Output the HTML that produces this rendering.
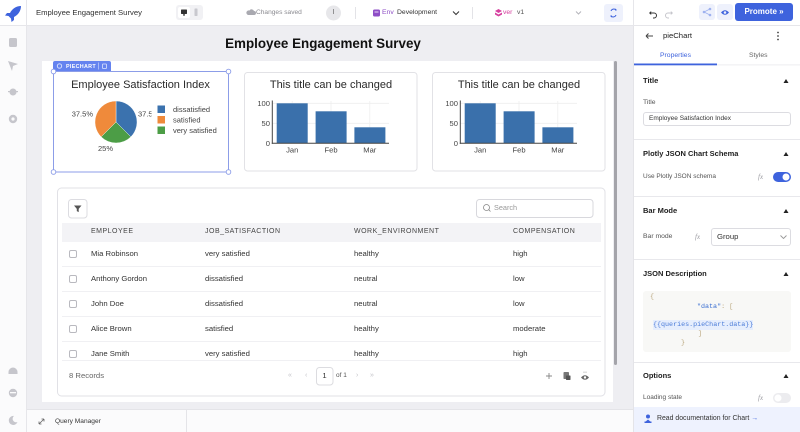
<!DOCTYPE html>
<html><head><meta charset="utf-8"><style>
*{box-sizing:border-box;margin:0;padding:0}
html,body{width:800px;height:432px;overflow:hidden}
body{position:relative;background:#eeeef2;font-family:"Liberation Sans",sans-serif;color:#222}
.a{position:absolute}
.t{position:absolute;white-space:nowrap;line-height:10px}
.row{font-size:7.7px;color:#333}
.hd{font-size:7px;letter-spacing:0.5px;color:#444}
.sec{font-size:7.5px;font-weight:bold;color:#1e1e1e}
.lbl{font-size:6.8px;color:#555}
.fx{font-family:"Liberation Serif",serif;font-style:italic;font-size:7px;color:#9a9aa0}
.cb{position:absolute;width:8px;height:8px;border:1px solid #b9b9bf;border-radius:2px;background:#fff}
.mono{font-family:"Liberation Mono",monospace;font-size:6.7px}
</style></head><body>

<!-- top bar -->
<div class="a" style="left:0;top:0;width:800px;height:26px;background:#fff;border-bottom:1px solid #e6e6ea"></div>
<!-- sidebar -->
<div class="a" style="left:0;top:26px;width:26px;height:406px;background:#fbfbfc"></div>
<div class="a" style="left:26px;top:0;width:1px;height:432px;background:#e6e6ea"></div>
<!-- canvas white page -->
<div class="a" style="left:42px;top:61px;width:571px;height:341px;background:#fff"></div>
<div class="a" style="left:614px;top:61px;width:3px;height:304px;background:#a4a4aa;border-radius:2px"></div>
<!-- query manager bar -->
<div class="a" style="left:27px;top:409px;width:606px;height:23px;background:#fbfbfc;border-top:1px solid #e4e4e8"></div>
<div class="a" style="left:186px;top:410px;width:1px;height:22px;background:#e4e4e8"></div>
<div class="t" style="left:55px;top:417px;font-size:6.6px;color:#333">Query Manager</div>
<!-- right panel -->
<div class="a" style="left:633px;top:0;width:1px;height:26px;background:#e6e6ea"></div>
<div class="a" style="left:633px;top:26px;width:167px;height:406px;background:#fff;border-left:1px solid #e4e4e8"></div>

<!-- main title -->
<div class="t" style="left:0;width:646px;text-align:center;top:37px;line-height:14px;font-size:13.4px;font-weight:bold;color:#111">Employee Engagement Survey</div>

<svg class="a" style="left:0;top:0" width="800" height="432" xmlns="http://www.w3.org/2000/svg" font-family="Liberation Sans, sans-serif">
  <!-- rocket logo -->
  <path d="M21,6 C16,6 12,9 10,13 L7,13 L5,15.5 L8.5,16 L11,18.5 L11.5,22 L14,20 L14,17 C18,15 21,11 21,6 Z" fill="#3e63dd"/>
  <!-- sidebar icons -->
  <g fill="#c6c6cc">
    <rect x="9" y="38" width="8" height="9" rx="1.5"/>
    <path d="M8,61 L18,64 L13,66 L12,71 Z"/>
    <circle cx="13" cy="92" r="3.5"/><rect x="8" y="91" width="10" height="1.2"/>
    <circle cx="13" cy="119" r="4.2"/>
    <path d="M8.5,372 A4.5,4.5 0 0 1 17.5,372 L17.5,374 L8.5,374 Z"/>
    <circle cx="13" cy="393" r="4.2"/>
    <path d="M14,416 A4.5,4.5 0 1 0 17.5,422 A3.5,3.5 0 0 1 14,416 Z"/>
  </g>
  <circle cx="13" cy="119" r="1.6" fill="#fbfbfc"/>
  <rect x="10" y="392" width="6" height="1.3" fill="#fbfbfc"/>

  <!-- top bar widgets -->
  <rect x="176" y="5" width="27" height="15" rx="3" fill="#f1f1f4"/>
  <rect x="178" y="7" width="12" height="11" rx="2" fill="#fff"/>
  <rect x="181" y="9.5" width="6" height="4.5" rx="0.6" fill="#333"/>
  <rect x="183.3" y="14" width="1.4" height="1.8" fill="#333"/>
  <rect x="194.5" y="8.5" width="3" height="7.5" rx="0.6" fill="#c8c8ce"/>
  <path d="M248,15 h6 a2,2 0 0 0 0,-4 a2.5,2.5 0 0 0 -4.5,-0.5 a2,2 0 0 0 -1.5,4.5 z" fill="#a9a9b0"/>
  <circle cx="333.5" cy="13" r="7.5" fill="#e7e7ea"/>
  <rect x="355" y="7" width="1" height="12" fill="#e3e3e7"/>
  <rect x="373" y="9.5" width="7" height="7" rx="1.5" fill="#8e4ec6"/>
  <rect x="374.5" y="11.5" width="4" height="1" fill="#e9d8f6"/>
  <polyline points="453,11.5 456,14.5 459,11.5" fill="none" stroke="#333" stroke-width="1"/>
  <rect x="472" y="7" width="1" height="12" fill="#e3e3e7"/>
  <path d="M495,11 L498.5,9 L502,11 L498.5,13 Z" fill="#d6409f"/>
  <path d="M495,12.5 L498.5,14.5 L502,12.5 L502,14.5 L498.5,16.5 L495,14.5 Z" fill="#d6409f"/>
  <polyline points="576,11.5 578.5,14 581,11.5" fill="none" stroke="#b5b5bb" stroke-width="1"/>
  <rect x="604" y="4" width="19" height="18" rx="3" fill="#eef1fc"/>
  <path d="M611,11 a3,3 0 0 1 5,-1 M616,15 a3,3 0 0 1 -5,1" fill="none" stroke="#3e63dd" stroke-width="1"/>
  <path d="M615.5,8.5 l1.5,1.8 l-2,0.3 z M611.5,17.5 l-1.5,-1.8 l2,-0.3 z" fill="#3e63dd"/>
  <path d="M650,13 h4 a2.5,2.5 0 0 1 0,5 h-1" fill="none" stroke="#333" stroke-width="1"/>
  <path d="M649,13 l2.2,-2 l0,4 z" fill="#333"/>
  <path d="M672,13 h-4 a2.5,2.5 0 0 0 0,5 h1" fill="none" stroke="#c6c6cc" stroke-width="1"/>
  <path d="M673,13 l-2.2,-2 l0,4 z" fill="#c6c6cc"/>
  <rect x="699" y="4" width="16" height="16" rx="3" fill="#eef1fc"/>
  <circle cx="704" cy="12" r="1.3" fill="#9fb2ef"/><circle cx="710" cy="9" r="1.3" fill="#9fb2ef"/><circle cx="710" cy="15" r="1.3" fill="#9fb2ef"/>
  <path d="M704,12 L710,9 M704,12 L710,15" stroke="#9fb2ef" stroke-width="0.8"/>
  <rect x="717" y="4" width="16" height="16" rx="3" fill="#eef1fc"/>
  <path d="M721,12.5 Q725,8 729,12.5 Q725,17 721,12.5 Z" fill="#3e63dd"/>
  <circle cx="725" cy="12.5" r="1.3" fill="#eef1fc"/>
  <rect x="735" y="3" width="58" height="18" rx="3" fill="#3e63dd"/>

  <!-- right panel icons -->
  <path d="M646,36 h7 M646,36 l2.5,-2.5 M646,36 l2.5,2.5" fill="none" stroke="#444" stroke-width="1"/>
  <circle cx="778" cy="32.5" r="0.9" fill="#444"/><circle cx="778" cy="36" r="0.9" fill="#444"/><circle cx="778" cy="39.5" r="0.9" fill="#444"/>
  <rect x="634" y="64.5" width="166" height="0.8" fill="#e8e8ec"/>
  <rect x="634" y="63.5" width="83" height="1.8" fill="#3e63dd"/>
  <g fill="#222">
    <polygon points="783.5,83 788.5,83 786,79"/>
    <polygon points="783.5,156 788.5,156 786,152"/>
    <polygon points="783.5,213 788.5,213 786,209"/>
    <polygon points="783.5,276 788.5,276 786,272"/>
    <polygon points="783.5,378 788.5,378 786,374"/>
  </g>
  <g fill="#e8e8ec">
    <rect x="634" y="139" width="166" height="1"/>
    <rect x="634" y="196" width="166" height="1"/>
    <rect x="634" y="259" width="166" height="1"/>
    <rect x="634" y="362" width="166" height="1"/>
  </g>
  <rect x="773" y="172" width="18" height="10" rx="5" fill="#3e63dd"/>
  <circle cx="786" cy="177" r="3.5" fill="#fff"/>
  <rect x="773" y="393" width="18" height="10" rx="5" fill="#ececef"/>
  <circle cx="778" cy="398" r="3.5" fill="#fff"/>
  <polyline points="780.5,235.5 783.5,238.5 786.5,235.5" fill="none" stroke="#999" stroke-width="0.9"/>
  <rect x="634" y="407" width="166" height="25" fill="#eef2fe"/>
  <circle cx="648" cy="416.5" r="2" fill="#3e63dd"/>
  <path d="M644.5,422.5 L648,419.5 L651.5,422.5 Z" fill="#3e63dd"/>
  <rect x="644.5" y="421.5" width="7" height="1.5" fill="#3e63dd"/>

  <!-- ===== PIE WIDGET ===== -->
  <rect x="53.5" y="71.5" width="175" height="100.5" fill="#fff" stroke="#8c9de8" stroke-width="1"/>
  <path d="M53,71 L53,63 Q53,61 55,61 L109,61 Q111,61 111,63 L111,71 Z" fill="#6583ef"/>
  <circle cx="59.5" cy="66" r="2.2" fill="none" stroke="#dfe6fd" stroke-width="0.9"/>
  <text x="66" y="68" font-size="5.4" font-weight="bold" fill="#fff" letter-spacing="0.3">PIECHART</text>
  <rect x="98" y="62.5" width="0.8" height="7" fill="#b9c7fa"/>
  <rect x="102.5" y="64" width="4" height="4.5" rx="0.6" fill="none" stroke="#dfe6fd" stroke-width="0.8"/>
  <g fill="#fff" stroke="#8c9de8" stroke-width="0.9">
    <circle cx="53.5" cy="71.5" r="2.3"/><circle cx="228.5" cy="71.5" r="2.3"/>
    <circle cx="53.5" cy="172" r="2.3"/><circle cx="228.5" cy="172" r="2.3"/>
  </g>
  <text x="140.5" y="88" font-size="11" text-anchor="middle" fill="#2a2a2a">Employee Satisfaction Index</text>
  <path d="M116,122 L116,101 A21,21 0 0,1 130.85,136.85 Z" fill="#3b72ae" stroke="#fff" stroke-width="0.4"/>
  <path d="M116,122 L130.85,136.85 A21,21 0 0,1 101.15,136.85 Z" fill="#4c9d46" stroke="#fff" stroke-width="0.4"/>
  <path d="M116,122 L101.15,136.85 A21,21 0 0,1 116,101 Z" fill="#ef8a3b" stroke="#fff" stroke-width="0.4"/>
  <text x="93" y="116.5" font-size="7.5" text-anchor="end" fill="#444">37.5%</text>
  <text x="138" y="116.5" font-size="7.5" fill="#444">37.5%</text>
  <rect x="151.5" y="104" width="70" height="32" fill="#fff"/>
  <text x="98" y="151" font-size="7.5" fill="#444">25%</text>
  <rect x="157.5" y="105.5" width="7.5" height="7.5" fill="#3b72ae"/>
  <rect x="157.5" y="116" width="7.5" height="7.5" fill="#ef8a3b"/>
  <rect x="157.5" y="126.5" width="7.5" height="7.5" fill="#4c9d46"/>
  <text x="173" y="112" font-size="7.5" fill="#444">dissatisfied</text>
  <text x="173" y="122.5" font-size="7.5" fill="#444">satisfied</text>
  <text x="173" y="133" font-size="7.5" fill="#444">very satisfied</text>

  <!-- ===== BAR CHART 1 ===== -->
  <g id="bar1">
    <rect x="244.5" y="72.5" width="172.5" height="98.5" rx="3" fill="#fff" stroke="#e2e2e6"/>
    <text x="331" y="88" font-size="11" text-anchor="middle" fill="#2a2a2a">This title can be changed</text>
    <g stroke="#eeeeee" stroke-width="0.8">
      <line x1="272" y1="103.3" x2="389" y2="103.3"/><line x1="272" y1="123.3" x2="389" y2="123.3"/>
      <line x1="292.2" y1="101" x2="292.2" y2="143"/><line x1="331" y1="101" x2="331" y2="143"/><line x1="369.8" y1="101" x2="369.8" y2="143"/>
    </g>
    <rect x="276.7" y="103.3" width="31" height="40" fill="#3a70ab"/>
    <rect x="315.6" y="111.3" width="31" height="32" fill="#3a70ab"/>
    <rect x="354.4" y="127.3" width="31" height="16" fill="#3a70ab"/>
    <line x1="272.3" y1="100.5" x2="272.3" y2="143.8" stroke="#444" stroke-width="1"/>
    <line x1="271.8" y1="143.3" x2="389" y2="143.3" stroke="#444" stroke-width="1"/>
    <text x="270" y="106" font-size="7.6" text-anchor="end" fill="#444">100</text>
    <text x="270" y="126" font-size="7.6" text-anchor="end" fill="#444">50</text>
    <text x="270" y="146" font-size="7.6" text-anchor="end" fill="#444">0</text>
    <text x="292.2" y="152.5" font-size="7.6" text-anchor="middle" fill="#444">Jan</text>
    <text x="331" y="152.5" font-size="7.6" text-anchor="middle" fill="#444">Feb</text>
    <text x="369.8" y="152.5" font-size="7.6" text-anchor="middle" fill="#444">Mar</text>
  </g>
  <!-- ===== BAR CHART 2 ===== -->
  <g transform="translate(188,0)">
    <rect x="244.5" y="72.5" width="172.5" height="98.5" rx="3" fill="#fff" stroke="#e2e2e6"/>
    <text x="331" y="88" font-size="11" text-anchor="middle" fill="#2a2a2a">This title can be changed</text>
    <g stroke="#eeeeee" stroke-width="0.8">
      <line x1="272" y1="103.3" x2="389" y2="103.3"/><line x1="272" y1="123.3" x2="389" y2="123.3"/>
      <line x1="292.2" y1="101" x2="292.2" y2="143"/><line x1="331" y1="101" x2="331" y2="143"/><line x1="369.8" y1="101" x2="369.8" y2="143"/>
    </g>
    <rect x="276.7" y="103.3" width="31" height="40" fill="#3a70ab"/>
    <rect x="315.6" y="111.3" width="31" height="32" fill="#3a70ab"/>
    <rect x="354.4" y="127.3" width="31" height="16" fill="#3a70ab"/>
    <line x1="272.3" y1="100.5" x2="272.3" y2="143.8" stroke="#444" stroke-width="1"/>
    <line x1="271.8" y1="143.3" x2="389" y2="143.3" stroke="#444" stroke-width="1"/>
    <text x="270" y="106" font-size="7.6" text-anchor="end" fill="#444">100</text>
    <text x="270" y="126" font-size="7.6" text-anchor="end" fill="#444">50</text>
    <text x="270" y="146" font-size="7.6" text-anchor="end" fill="#444">0</text>
    <text x="292.2" y="152.5" font-size="7.6" text-anchor="middle" fill="#444">Jan</text>
    <text x="331" y="152.5" font-size="7.6" text-anchor="middle" fill="#444">Feb</text>
    <text x="369.8" y="152.5" font-size="7.6" text-anchor="middle" fill="#444">Mar</text>
  </g>

  <!-- ===== TABLE ===== -->
  <rect x="57.5" y="188" width="547.5" height="208" rx="4" fill="#fff" stroke="#e1e1e6"/>
  <rect x="68.5" y="199.5" width="18.5" height="18.5" rx="3" fill="#fff" stroke="#dcdce1"/>
  <path d="M74,205.5 h7.5 l-2.8,3.4 v3.2 l-1.9,-1 v-2.2 z" fill="#555"/>
  <rect x="476.5" y="199.5" width="116.5" height="18" rx="3" fill="#fff" stroke="#d8d8dd"/>
  <circle cx="486.5" cy="207.5" r="3" fill="none" stroke="#888" stroke-width="0.8"/>
  <line x1="488.7" y1="209.7" x2="490.5" y2="211.5" stroke="#888" stroke-width="0.8"/>
  <rect x="62" y="223" width="539" height="19" fill="#f3f3f6"/>
  <g fill="#ececf0">
    <rect x="62" y="266" width="539" height="0.8"/>
    <rect x="62" y="291" width="539" height="0.8"/>
    <rect x="62" y="316" width="539" height="0.8"/>
    <rect x="62" y="341" width="539" height="0.8"/>
    <rect x="62" y="360" width="539" height="0.8"/>
  </g>
  <rect x="316.5" y="367.5" width="16.5" height="17.5" rx="3" fill="#fff" stroke="#dcdce0"/>
  <path d="M549,373 v6 M546,376 h6" stroke="#888" stroke-width="0.9"/>
  <rect x="563.5" y="372" width="5.5" height="7" rx="0.8" fill="#777"/>
  <rect x="566" y="375.5" width="4.5" height="4.5" rx="0.6" fill="#555"/>
  <path d="M581,377.5 Q585,373 589,377.5 Q585,382 581,377.5 Z" fill="#666"/>
  <circle cx="585" cy="377.5" r="1.2" fill="#fff"/>
  <path d="M584,373 l0,-1.5 M586,373 l0,-1.5" stroke="#999" stroke-width="0.6"/>
  <!-- query manager icon -->
  <path d="M39,424 L44,419 M39,424 v-2.5 M39,424 h2.5 M44,419 h-2.5 M44,419 v2.5" stroke="#666" stroke-width="0.8" fill="none"/>
</svg>

<!-- top bar text -->
<div class="t" style="left:36px;top:8px;font-size:7.7px;color:#333">Employee Engagement Survey</div>
<div class="t" style="left:256px;top:8px;font-size:6.6px;color:#8a8a90">Changes saved</div>
<div class="t" style="left:326px;top:8px;width:15px;text-align:center;font-size:7px;color:#666">I</div>
<div class="t" style="left:382px;top:8px;font-size:6.8px;color:#8e4ec6">Env</div>
<div class="t" style="left:397px;top:8px;font-size:6.8px;color:#333">Development</div>
<div class="t" style="left:503px;top:8px;font-size:6.8px;color:#d6409f">ver</div>
<div class="t" style="left:517px;top:8px;font-size:6.8px;color:#555">v1</div>
<div class="t" style="left:735px;top:7px;width:58px;text-align:center;font-size:8px;font-weight:bold;color:#fff">Promote »</div>

<!-- right panel text -->
<div class="t" style="left:663px;top:31px;font-size:7.7px;color:#222">pieChart</div>
<div class="t" style="left:660px;top:51px;font-size:6.8px;color:#3e63dd">Properties</div>
<div class="t" style="left:749px;top:51px;font-size:6.8px;color:#666">Styles</div>
<div class="t sec" style="left:643px;top:76px">Title</div>
<div class="t lbl" style="left:643px;top:98px">Title</div>
<div class="a" style="left:643px;top:112px;width:148px;height:14px;border:1px solid #dcdce1;border-radius:3px;background:#fff"></div>
<div class="t" style="left:649px;top:114px;font-size:6.5px;color:#333">Employee Satisfaction Index</div>
<div class="t sec" style="left:643px;top:149px">Plotly JSON Chart Schema</div>
<div class="t lbl" style="left:643px;top:172px;font-size:6.5px">Use Plotly JSON schema</div>
<div class="t fx" style="left:758px;top:172px">fx</div>
<div class="t sec" style="left:643px;top:206px">Bar Mode</div>
<div class="t lbl" style="left:643px;top:232px">Bar mode</div>
<div class="t fx" style="left:695px;top:232px">fx</div>
<div class="a" style="left:711px;top:228px;width:80px;height:18px;border:1px solid #dcdce1;border-radius:3px"></div>
<div class="t" style="left:717px;top:232px;font-size:7.7px;color:#333">Group</div>
<div class="t sec" style="left:643px;top:269px">JSON Description</div>
<div class="a" style="left:643px;top:291px;width:148px;height:61px;background:#f8f8f6;border-radius:3px"></div>
<div class="t mono" style="left:650px;top:292px;color:#b9a57c">{</div>
<div class="t mono" style="left:697px;top:302px;color:#3b6fd1">"data"<span style="color:#b9a57c">: [</span></div>
<div class="t mono" style="left:653px;top:320px;color:#4a7bd8;background:#e6eefd">{{queries.pieChart.data}}</div>
<div class="t mono" style="left:698px;top:329px;color:#b9a57c">]</div>
<div class="t mono" style="left:681px;top:338px;color:#b9a57c">}</div>
<div class="t sec" style="left:643px;top:371px">Options</div>
<div class="t lbl" style="left:643px;top:393px;font-size:6.5px">Loading state</div>
<div class="t fx" style="left:758px;top:393px">fx</div>
<div class="t" style="left:657px;top:414px;font-size:6.9px;color:#333">Read documentation for Chart <span style="color:#3e63dd">→</span></div>

<!-- table text -->
<div class="t" style="left:494px;top:203px;font-size:7.3px;color:#999">Search</div>
<div class="t hd" style="left:91px;top:227px">EMPLOYEE</div>
<div class="t hd" style="left:205px;top:227px">JOB_SATISFACTION</div>
<div class="t hd" style="left:354px;top:227px">WORK_ENVIRONMENT</div>
<div class="t hd" style="left:513px;top:227px">COMPENSATION</div>

<div class="cb" style="left:69px;top:250px"></div>
<div class="t row" style="left:91px;top:249px">Mia Robinson</div>
<div class="t row" style="left:205px;top:249px">very satisfied</div>
<div class="t row" style="left:354px;top:249px">healthy</div>
<div class="t row" style="left:513px;top:249px">high</div>

<div class="cb" style="left:69px;top:275px"></div>
<div class="t row" style="left:91px;top:274px">Anthony Gordon</div>
<div class="t row" style="left:205px;top:274px">dissatisfied</div>
<div class="t row" style="left:354px;top:274px">neutral</div>
<div class="t row" style="left:513px;top:274px">low</div>

<div class="cb" style="left:69px;top:300px"></div>
<div class="t row" style="left:91px;top:299px">John Doe</div>
<div class="t row" style="left:205px;top:299px">dissatisfied</div>
<div class="t row" style="left:354px;top:299px">neutral</div>
<div class="t row" style="left:513px;top:299px">low</div>

<div class="cb" style="left:69px;top:325px"></div>
<div class="t row" style="left:91px;top:324px">Alice Brown</div>
<div class="t row" style="left:205px;top:324px">satisfied</div>
<div class="t row" style="left:354px;top:324px">healthy</div>
<div class="t row" style="left:513px;top:324px">moderate</div>

<div class="cb" style="left:69px;top:350px"></div>
<div class="t row" style="left:91px;top:349px">Jane Smith</div>
<div class="t row" style="left:205px;top:349px">very satisfied</div>
<div class="t row" style="left:354px;top:349px">healthy</div>
<div class="t row" style="left:513px;top:349px">high</div>

<div class="t" style="left:69px;top:371px;font-size:7.7px;color:#666">8 Records</div>
<div class="t" style="left:288px;top:371px;font-size:7px;color:#c4c4c9">«</div>
<div class="t" style="left:305px;top:371px;font-size:7px;color:#c4c4c9">‹</div>
<div class="t" style="left:316px;top:371px;width:17px;text-align:center;font-size:7.7px;color:#333">1</div>
<div class="t" style="left:336px;top:371px;font-size:6.5px;color:#555">of 1</div>
<div class="t" style="left:356px;top:371px;font-size:7px;color:#c4c4c9">›</div>
<div class="t" style="left:370px;top:371px;font-size:7px;color:#c4c4c9">»</div>

</body></html>
